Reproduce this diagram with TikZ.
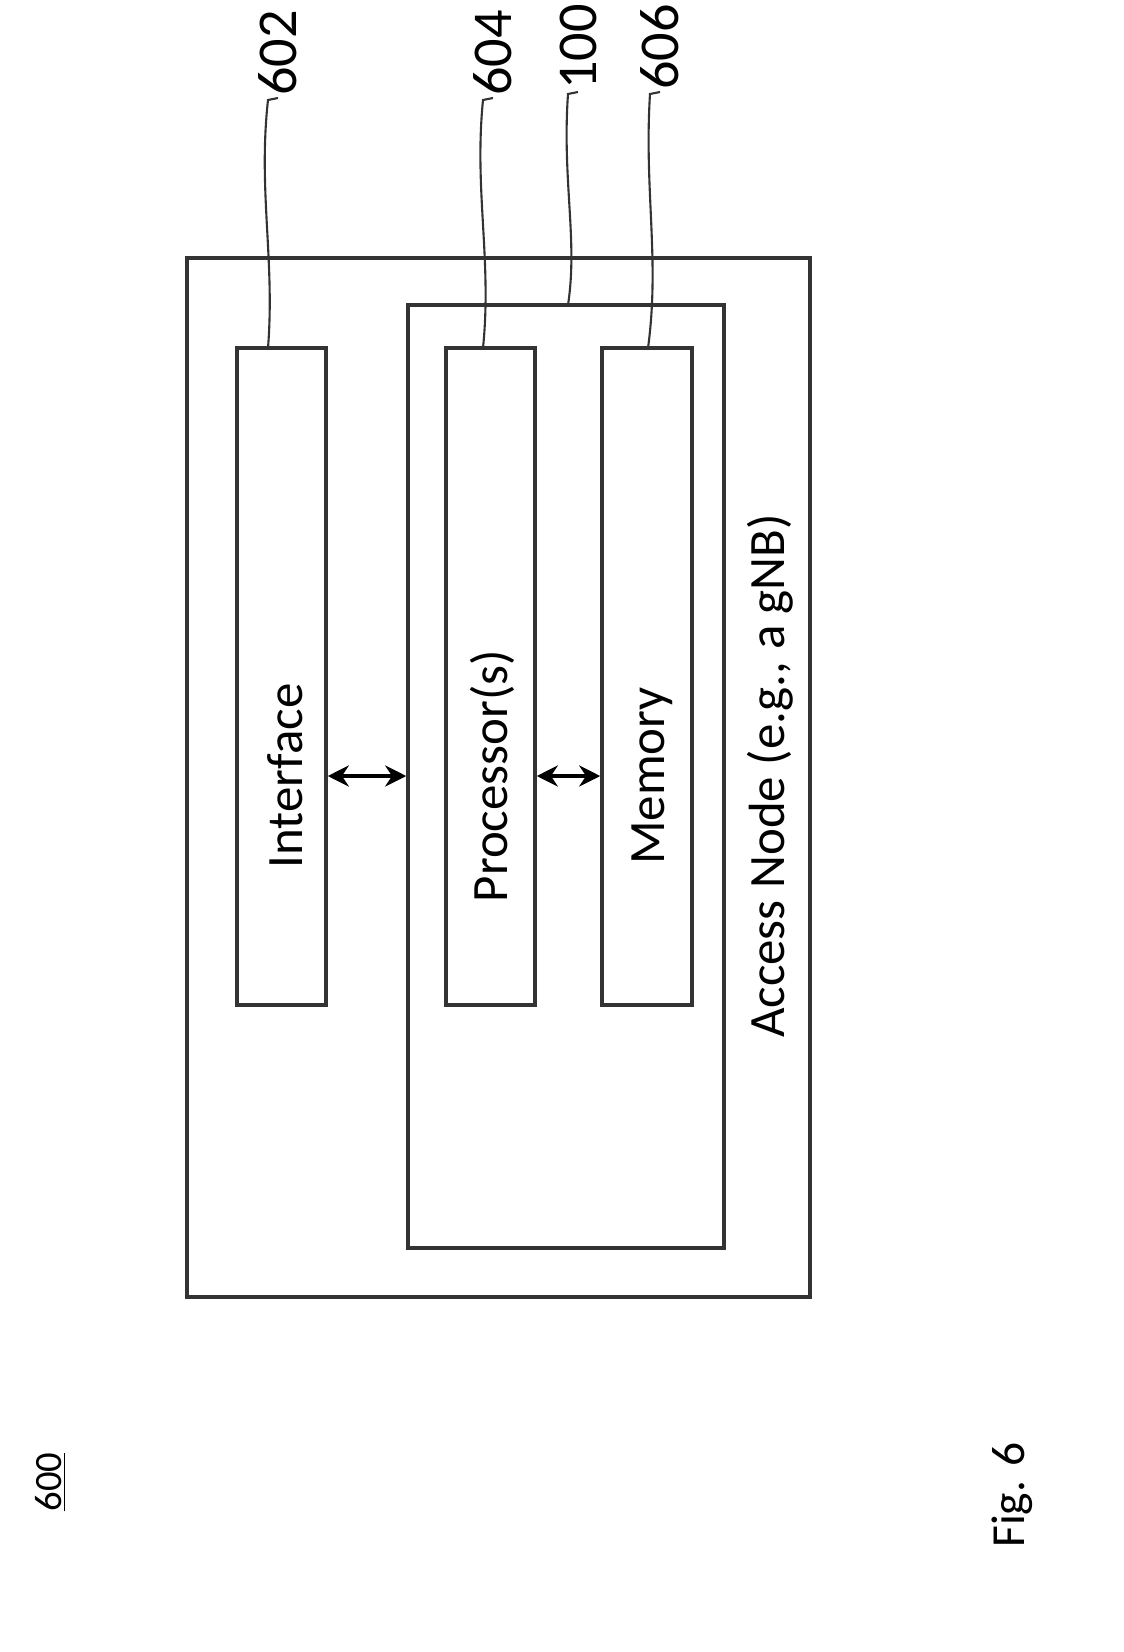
\documentclass[tikz,border=0pt]{standalone}
\usepackage{fontspec}
\setmainfont{Carlito}
\usetikzlibrary{arrows.meta}
\begin{document}
\begin{tikzpicture}[x=0.02cm,y=-0.02cm,>={Stealth[length=12pt,width=12pt]},
  box/.style={draw=black!80, line width=2pt, inner sep=0pt},
  lbl/.style={rotate=90, font=\fontsize{29}{34}\selectfont},
  num/.style={rotate=90, font=\fontsize{32}{36}\selectfont},
  lead/.style={draw=black!80, line width=1.2pt}]
\useasboundingbox (0,0) rectangle (1123,1652);

\node[box, minimum width=623*0.02cm, minimum height=1039*0.02cm] (outer) at (498.5,777.5) {};
\node[box, minimum width=316*0.02cm, minimum height=943*0.02cm] (inner) at (566,776.5) {};
\node[box, minimum width=89*0.02cm, minimum height=657*0.02cm] (iface) at (281.5,676.5) {};
\node[box, minimum width=89*0.02cm, minimum height=657*0.02cm] (proc) at (490.5,676.5) {};
\node[box, minimum width=90*0.02cm, minimum height=657*0.02cm] (mem) at (647,676.5) {};

\node[lbl] (ifacetxt) at (285,776) {Interface};
\node[lbl] (proctxt) at (492,776) {Processor(s)};
\node[lbl] (memtxt) at (652,776) {Memory};
\node[lbl] (outertxt) at (770,776) {Access Node (e.g., a gNB)};

\coordinate (mid) at (0,776);
\draw[<->, line width=1.8pt] (iface.east |- mid) -- (inner.west |- mid);
\draw[<->, line width=1.8pt] (proc.east |- mid) -- (mem.west |- mid);

% reference numerals
\node[num, anchor=west, inner sep=1pt] (n602) at (278,98) {602};
\node[num, anchor=west, inner sep=1pt] (n604) at (493,98) {604};
\node[num, anchor=west, inner sep=1pt] (n100) at (578,92) {100};
\node[num, anchor=west, inner sep=1pt] (n606) at (660,92) {606};
\draw[lead] (n602.west) -- ++(-10,2) .. controls (258,190) and (275,260) .. (268,348);
\draw[lead] (n604.west) -- ++(-10,2) .. controls (474,190) and (492,260) .. (483,348);
\draw[lead] (n100.west) -- ++(-10,2) .. controls (562,180) and (578,240) .. (568,305);
\draw[lead] (n606.west) -- ++(-10,2) .. controls (644,190) and (660,260) .. (648,348);

\node[rotate=90, font=\fontsize{22}{26}\selectfont] (fignum) at (50,1482) {\underline{600}};
\node[rotate=90, font=\fontsize{27}{30}\selectfont] (figlbl) at (1012,1495) {Fig. 6};
\end{tikzpicture}
\end{document}
